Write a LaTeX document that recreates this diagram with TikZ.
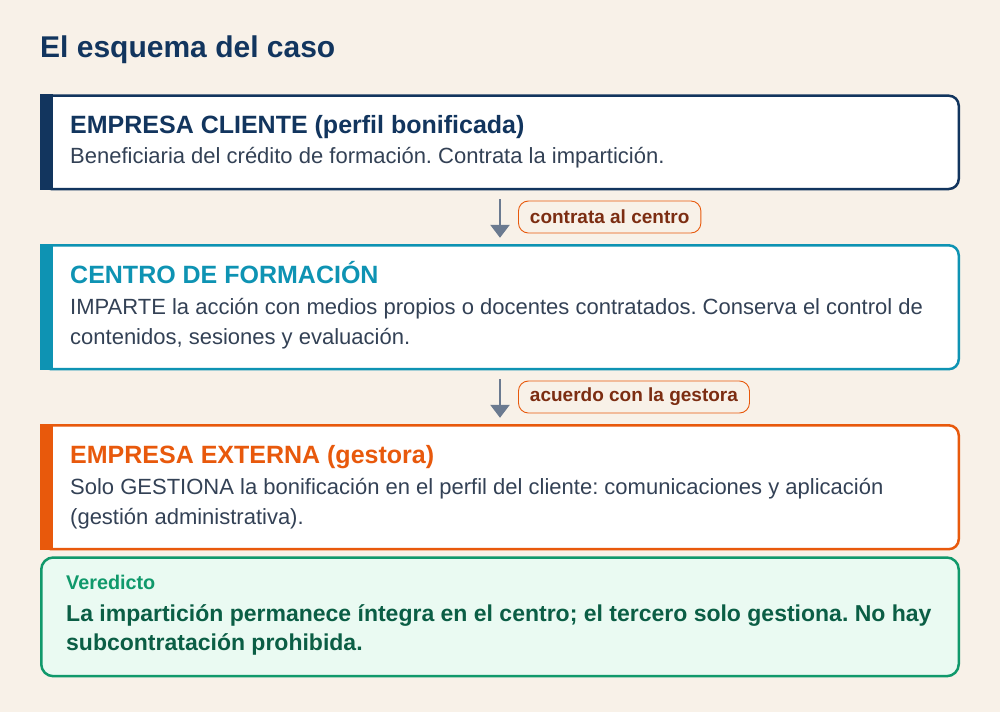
\documentclass[tikz,border=0pt]{standalone}
\usepackage{fontspec}
\setmainfont{Liberation Sans}
\frenchspacing
\usetikzlibrary{arrows.meta}
\definecolor{bg}{HTML}{F8F1E8}
\definecolor{navy}{HTML}{12355E}
\definecolor{teal}{HTML}{0E93B3}
\definecolor{naranja}{HTML}{E8590C}
\definecolor{verde}{HTML}{10996B}
\definecolor{verdeosc}{HTML}{0B5E45}
\definecolor{verdefondo}{HTML}{EAFAF2}
\definecolor{pizarra}{HTML}{334155}
\definecolor{flecha}{HTML}{6B7A90}
\definecolor{marron}{HTML}{7C2D12}
\def \BoxW {917.5}
\def \TextX {70}
\tikzstyle{card}=[
  draw=#1,
  fill=white,
  line width=2.5pt,
  rounded corners=10pt,
  minimum width=\BoxW pt,
  inner sep=0pt,
  outer sep=0pt
]
\tikzstyle{verdict}=[
  card=verde,
  fill=verdefondo,
  rounded corners=12pt
]
\tikzstyle{head}=[
  anchor=base west,
  inner sep=0pt,
  font=\bfseries\fontsize{25}{30}\selectfont
]
\tikzstyle{body}=[
  anchor=base west,
  inner sep=0pt,
  align=left,
  text=pizarra,
  font=\fontsize{22}{30}\selectfont
]
\tikzstyle{tag}=[
  draw=naranja,
  fill=bg,
  line width=0.9pt,
  rounded corners=10pt,
  anchor=west,
  inner xsep=11.5pt,
  minimum height=32pt,
  text=marron,
  font=\bfseries\fontsize{19}{22}\selectfont
]
\tikzstyle{flow}=[
  draw=flecha,
  line width=2.6pt,
  -{Triangle[width=19pt,length=13pt]},
  shorten <=10pt,
  shorten >=7.5pt
]

\begin{document}
\begin{tikzpicture}[x=1pt,y=-1pt]
          \fill[bg] (0,0) rectangle (1000,712);

          \node[anchor=base west, inner sep=0pt, text=navy,
            font=\bfseries\fontsize{30}{34}\selectfont] (titulo) at (40,57) {El esquema del caso};

          % cards
          \node[card=navy, minimum height=93.3pt] (cliente) at (500,142.35) {};
          \node[card=teal, minimum height=123.9pt] (centro) at (500,307.25) {};
          \node[card=naranja, minimum height=123.9pt] (gestora) at (500,487.25) {};
          \node[verdict, minimum height=118.7pt] (veredicto) at (500,616.85) {};

          % side bars
          \foreach \n/\c in {cliente/navy, centro/teal, gestora/naranja}{
            \fill[\c] ([shift={(-1.25,-1.25)}]\n.north west) rectangle ([shift={(11.5,1.25)}]\n.south west);
          }

          % texts (multi-line nodes sit on their last line)
          \node[head, text=navy] (cliente-t) at (\TextX,133) {EMPRESA CLIENTE (perfil bonificada)};
          \node[body] (cliente-b) at (\TextX,163.3) {Beneficiaria del crédito de formación. Contrata la impartición.};

          \node[head, text=teal] (centro-t) at (\TextX,283.3) {CENTRO DE FORMACIÓN};
          \node[body] (centro-b) at (\TextX,344) {IMPARTE la acción con medios propios o docentes contratados. Conserva el control de\\contenidos, sesiones y evaluación.};

          \node[head, text=naranja] (gestora-t) at (\TextX,463.3) {EMPRESA EXTERNA (gestora)};
          \node[body] (gestora-b) at (\TextX,524) {Solo GESTIONA la bonificación en el perfil del cliente: comunicaciones y aplicación\\(gestión administrativa).};

          \node[anchor=base west, inner sep=0pt, text=verde,
            font=\bfseries\fontsize{19.8}{24}\selectfont] (veredicto-t) at (66,589) {Veredicto};
          \node[anchor=base west, inner sep=0pt, align=left, text=verdeosc,
            font=\bfseries\fontsize{23}{29.5}\selectfont] (veredicto-b) at (66,650.5)
            {La impartición permanece íntegra en el centro; el tercero solo gestiona. No hay\\subcontratación prohibida.};

          % connect cards
          \draw[flow] (cliente) -- (centro);
          \draw[flow] (centro) -- (gestora);

          % tags
          \node[tag] (tag1) at (518,217) {contrata al centro};
          \node[tag] (tag2) at (518,397) {acuerdo con la gestora};
        \end{tikzpicture}
\end{document}
